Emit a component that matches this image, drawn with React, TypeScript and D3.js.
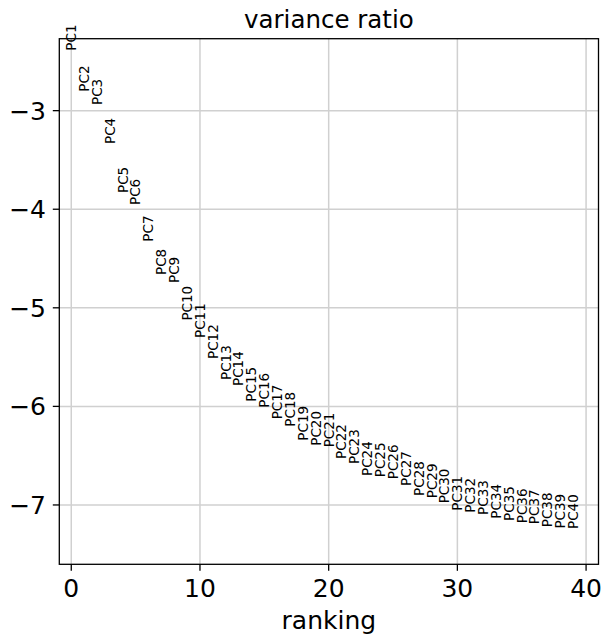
import React from 'react';
import * as d3 from 'd3';

// variance ratio (log) per PC
const PC_LABELS = d3.range(1, 41).map((i) => `PC${i}`);
const RATIOS = [
  -2.391, -2.807, -2.942, -3.338, -3.835, -3.957, -4.329, -4.667, -4.748, -5.13,
  -5.306, -5.519, -5.732, -5.793, -5.952, -6.013, -6.131, -6.206, -6.348, -6.399,
  -6.415, -6.533, -6.584, -6.706, -6.719, -6.739, -6.807, -6.908, -6.932, -6.983,
  -7.058, -7.078, -7.101, -7.139, -7.162, -7.185, -7.195, -7.226, -7.24, -7.244,
];
const X_TICKS = [0, 10, 20, 30, 40];
const Y_TICKS = [-3, -4, -5, -6, -7];

const W = 605;
const H = 638;
const FONT = 'DejaVu Sans, sans-serif';

export default function App() {
  const left = 59.3;
  const right = 598.5;
  const top = 38.7;
  const bottom = 564.3;

  const x = d3.scaleLinear().domain([-0.93, 40.965]).range([left, right]);
  const y = d3.scaleLinear().domain([-7.602, -2.27]).range([bottom, top]);
  const fmt = (v: number) => String(v).replace('-', '\u2212');

  return (
    <div style={{ position: 'fixed', left: 0, top: 0 }}>
      <svg width={W} height={H} style={{ display: 'block', background: '#fff' }} fontFamily={FONT}>
        {/* grid */}
        <g stroke="#d0d0d0" strokeWidth={1.5}>
          {X_TICKS.map((t) => (
            <line key={'gx' + t} x1={x(t)} x2={x(t)} y1={top} y2={bottom} />
          ))}
          {Y_TICKS.map((t) => (
            <line key={'gy' + t} x1={left} x2={right} y1={y(t)} y2={y(t)} />
          ))}
        </g>

        {/* PC labels, rotated, bottom at value */}
        <g fontSize={13.5} fill="#000">
          {RATIOS.map((v, i) => (
            <text
              key={PC_LABELS[i]}
              transform={`translate(${x(i)},${y(v)}) rotate(-90)`}
              textAnchor="start"
              dy="0.36em"
            >
              {PC_LABELS[i]}
            </text>
          ))}
        </g>

        {/* frame */}
        <rect x={left} y={top} width={right - left} height={bottom - top} fill="none" stroke="#000" strokeWidth={1.3} />

        {/* x axis */}
        <g fontSize={25} textAnchor="middle">
          {X_TICKS.map((t) => (
            <g key={'xt' + t}>
              <line x1={x(t)} x2={x(t)} y1={bottom} y2={bottom + 6.5} stroke="#000" strokeWidth={1.3} />
              <text x={x(t)} y={597}>{fmt(t)}</text>
            </g>
          ))}
          <text x={(left + right) / 2} y={629}>ranking</text>
        </g>

        {/* y axis */}
        <g fontSize={25} textAnchor="end">
          {Y_TICKS.map((t) => (
            <g key={'yt' + t}>
              <line x1={left - 6.5} x2={left} y1={y(t)} y2={y(t)} stroke="#000" strokeWidth={1.3} />
              <text x={46} y={y(t)} dy="0.36em">{fmt(t)}</text>
            </g>
          ))}
        </g>

        <text x={(left + right) / 2} y={27.5} fontSize={24.5} textAnchor="middle">
          variance ratio
        </text>
      </svg>
    </div>
  );
}
